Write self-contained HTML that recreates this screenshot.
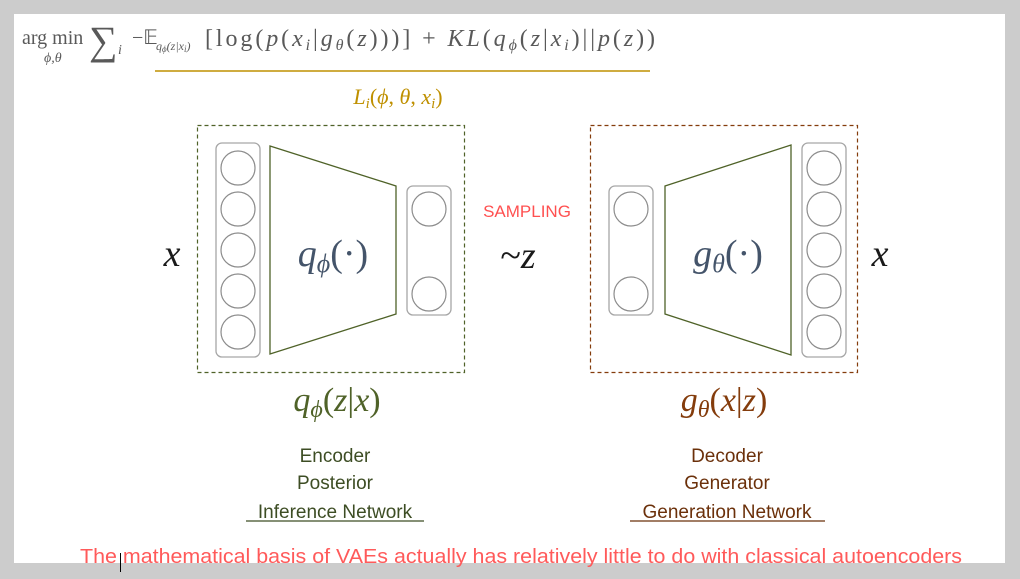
<!DOCTYPE html>
<html><head><meta charset="utf-8"><style>
html,body{margin:0;padding:0;background:#cccccc;width:1020px;height:579px;overflow:hidden}
svg{display:block}
</style></head><body>
<svg width="1020" height="579" xmlns="http://www.w3.org/2000/svg">
<rect x="0" y="0" width="1020" height="579" fill="#cccccc"/>
<rect x="14" y="14" width="991" height="549" fill="#ffffff"/>
<!-- formula -->
<g font-family="Liberation Serif, serif" fill="#595959">
<text x="22" y="44" font-size="20">arg min</text>
<text x="44" y="62" font-size="14" font-style="italic">ϕ,θ</text>
<text x="89" y="54" font-size="40">∑</text>
<text x="118" y="54" font-size="14" font-style="italic">i</text>
<text x="132" y="44" font-size="20">−𝔼</text>
<text x="156" y="50" font-size="12" font-style="italic">q<tspan font-size="9" dy="2">ϕ</tspan><tspan dy="-2">(z|x</tspan><tspan font-size="9" dy="2">i</tspan><tspan dy="-2">)</tspan></text>
<text x="205" y="46" font-size="24" textLength="450" lengthAdjust="spacing">[log(<tspan font-style="italic">p</tspan>(<tspan font-style="italic">x</tspan><tspan font-style="italic" font-size="16" dy="4">i</tspan><tspan dy="-4">|</tspan><tspan font-style="italic">g</tspan><tspan font-style="italic" font-size="16" dy="4">θ</tspan><tspan dy="-4">(</tspan><tspan font-style="italic">z</tspan>)))] + <tspan font-style="italic">KL</tspan>(<tspan font-style="italic">q</tspan><tspan font-style="italic" font-size="16" dy="4">ϕ</tspan><tspan dy="-4">(</tspan><tspan font-style="italic">z</tspan>|<tspan font-style="italic">x</tspan><tspan font-style="italic" font-size="16" dy="4">i</tspan><tspan dy="-4">)||</tspan><tspan font-style="italic">p</tspan>(<tspan font-style="italic">z</tspan>))</text>
</g>
<line x1="155" y1="71" x2="650" y2="71" stroke="#bf9000" stroke-width="1.5"/>
<text x="398" y="104" font-family="Liberation Serif, serif" font-size="22" fill="#bf9000" text-anchor="middle"><tspan font-style="italic">L</tspan><tspan font-style="italic" font-size="15" dy="4">i</tspan><tspan dy="-4">(</tspan><tspan font-style="italic">ϕ</tspan>, <tspan font-style="italic">θ</tspan>, <tspan font-style="italic">x</tspan><tspan font-style="italic" font-size="15" dy="4">i</tspan><tspan dy="-4">)</tspan></text>

<!-- encoder -->
<rect x="197.5" y="125.5" width="267" height="247" fill="none" stroke="#4f6228" stroke-width="1.2" stroke-dasharray="4,3"/>
<rect x="216" y="143" width="44" height="214" rx="6" fill="none" stroke="#a6a6a6" stroke-width="1.3"/>
<g fill="none" stroke="#8c8c8c" stroke-width="1.2">
<circle cx="238" cy="168" r="17"/><circle cx="238" cy="209" r="17"/><circle cx="238" cy="250" r="17"/><circle cx="238" cy="291" r="17"/><circle cx="238" cy="332" r="17"/>
</g>
<polygon points="270,146 396,186 396,314 270,354" fill="none" stroke="#4f6228" stroke-width="1.3"/>
<rect x="407" y="186" width="44" height="129" rx="6" fill="none" stroke="#a6a6a6" stroke-width="1.3"/>
<g fill="none" stroke="#8c8c8c" stroke-width="1.2"><circle cx="429" cy="209" r="17"/><circle cx="429" cy="294" r="17"/></g>
<text x="333" y="266" font-family="Liberation Serif, serif" font-size="38" fill="#44546a" text-anchor="middle"><tspan font-style="italic">q</tspan><tspan font-style="italic" font-size="26" dy="6">ϕ</tspan><tspan dy="-6">(·)</tspan></text>

<!-- decoder -->
<rect x="590.5" y="125.5" width="267" height="247" fill="none" stroke="#843c0c" stroke-width="1.2" stroke-dasharray="4,3"/>
<rect x="609" y="186" width="44" height="129" rx="6" fill="none" stroke="#a6a6a6" stroke-width="1.3"/>
<g fill="none" stroke="#8c8c8c" stroke-width="1.2"><circle cx="631" cy="209" r="17"/><circle cx="631" cy="294" r="17"/></g>
<polygon points="665,186 791,145 791,355 665,314" fill="none" stroke="#4f6228" stroke-width="1.3"/>
<rect x="802" y="143" width="44" height="214" rx="6" fill="none" stroke="#a6a6a6" stroke-width="1.3"/>
<g fill="none" stroke="#8c8c8c" stroke-width="1.2">
<circle cx="824" cy="168" r="17"/><circle cx="824" cy="209" r="17"/><circle cx="824" cy="250" r="17"/><circle cx="824" cy="291" r="17"/><circle cx="824" cy="332" r="17"/>
</g>
<text x="728" y="266" font-family="Liberation Serif, serif" font-size="38" fill="#44546a" text-anchor="middle"><tspan font-style="italic">g</tspan><tspan font-style="italic" font-size="26" dy="6">θ</tspan><tspan dy="-6">(·)</tspan></text>

<!-- x, z -->
<g font-family="Liberation Serif, serif" font-style="italic" font-size="38" fill="#1a1a1a">
<text x="172" y="266" text-anchor="middle">x</text>
<text x="880" y="266" text-anchor="middle">x</text>
<text x="518" y="268" text-anchor="middle"><tspan font-style="normal">~</tspan>z</text>
</g>
<text x="527" y="217" font-family="Liberation Sans, sans-serif" font-size="17" fill="#ff5050" text-anchor="middle">SAMPLING</text>

<text x="337" y="411" font-family="Liberation Serif, serif" font-size="34" fill="#4f6228" text-anchor="middle"><tspan font-style="italic">q</tspan><tspan font-style="italic" font-size="24" dy="6">ϕ</tspan><tspan dy="-6">(</tspan><tspan font-style="italic">z</tspan>|<tspan font-style="italic">x</tspan>)</text>
<text x="724" y="411" font-family="Liberation Serif, serif" font-size="34" fill="#843c0c" text-anchor="middle"><tspan font-style="italic">g</tspan><tspan font-style="italic" font-size="24" dy="6">θ</tspan><tspan dy="-6">(</tspan><tspan font-style="italic">x</tspan>|<tspan font-style="italic">z</tspan>)</text>

<g font-family="Liberation Sans, sans-serif" font-size="19" text-anchor="middle">
<g fill="#3d4d24">
<text x="335" y="462">Encoder</text>
<text x="335" y="489">Posterior</text>
<text x="335" y="518">Inference Network</text>
</g>
<line x1="246" y1="521" x2="424" y2="521" stroke="#3d4d24" stroke-width="1.2"/>
<g fill="#6b300a">
<text x="727" y="462">Decoder</text>
<text x="727" y="489">Generator</text>
<text x="727" y="518">Generation Network</text>
</g>
<line x1="630" y1="521" x2="825" y2="521" stroke="#6b300a" stroke-width="1.2"/>
</g>
<text x="80" y="563" font-family="Liberation Sans, sans-serif" font-size="20.5" fill="#ff5a5a" textLength="882" lengthAdjust="spacingAndGlyphs">The mathematical basis of VAEs actually has relatively little to do with classical autoencoders</text>
<line x1="120.5" y1="553" x2="120.5" y2="572" stroke="#000" stroke-width="1"/>
</svg>
</body></html>
